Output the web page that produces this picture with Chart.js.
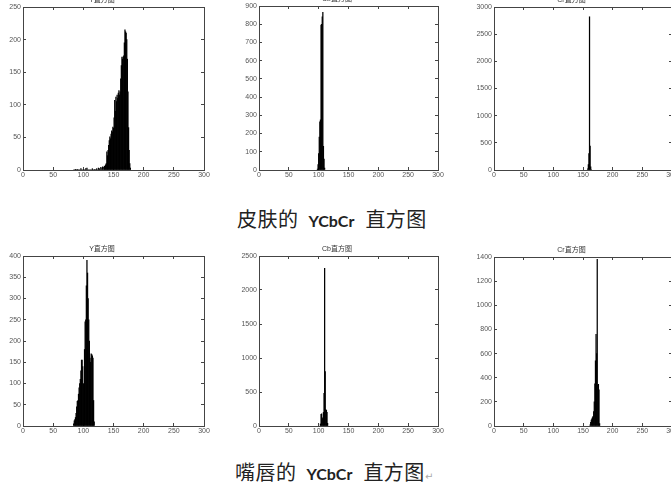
<!DOCTYPE html>
<html><head><meta charset="utf-8">
<script src="https://cdn.jsdelivr.net/npm/chart.js@4.4.1/dist/chart.umd.min.js"></script>
<style>
html,body{margin:0;padding:0;width:671px;height:490px;overflow:hidden;background:#fff;position:relative}
canvas{position:absolute}
.cap{position:absolute;white-space:nowrap;color:#222;font-family:"Noto Sans CJK SC";font-size:20px;line-height:20px;letter-spacing:0.5px}
.cap b{font-family:Lato;font-weight:bold;font-size:16px;margin:0 11px 0 10px;letter-spacing:0}
.ret{color:#aaa;font-size:10px;font-family:"DejaVu Sans"}
</style></head><body>
<div class="cap" style="left:237px;top:209px">皮肤的<b>YCbCr</b>直方图</div>
<div class="cap" style="left:235px;top:462px">嘴唇的<b>YCbCr</b>直方图<span class="ret">↵</span></div>
<script>
// x tick values shared by all panels
const xTicks = [0, 50, 100, 150, 200, 250, 300];

// 皮肤 (skin) Y histogram
const skinYBins = [84,85,86,87,88,89,90,91,92,93,94,95,96,97,98,99,100,101,102,103,104,105,106,107,108,109,110,111,112,113,114,115,116,117,118,119,120,121,122,123,124,125,126,127,128,129,130,131,132,133,134,135,136,137,138,139,140,141,142,143,144,145,146,147,148,149,150,151,152,153,154,155,156,157,158,159,160,161,162,163,164,165,166,167,168,169,170,171,172,173,174,175,176,177,178];
const skinYCounts = [0,0,0,1,0,0,1,0,0,0,0,0,2,0,0,0,0,0,0,0,2,0,3,0,0,0,0,0,0,0,0,2,0,0,0,1,0,0,2,0,0,3,0,2,0,4,0,3,5,0,4,6,5,8,10,28,22,30,38,45,51,48,55,60,58,66,64,80,107,90,112,105,115,110,118,122,115,120,140,160,173,170,173,175,195,215,212,210,200,170,120,65,30,10,3];

// skin Cb histogram
const skinCbBins = [98,99,100,101,102,103,104,105,106,107,108,109,110];
const skinCbCounts = [5,30,90,180,265,275,795,800,840,865,130,60,10];

// skin Cr histogram
const skinCrBins = [158,159,160,161,162,163,164];
const skinCrCounts = [20,100,300,2820,440,60,10];

// 嘴唇 (lip) Y histogram
const lipYBins = [84,85,86,87,88,89,90,91,92,93,94,95,96,97,98,99,100,101,102,103,104,105,106,107,108,109,110,111,112,113,114,115,116,117,118];
const lipYCounts = [5,12,15,20,30,45,58,60,75,90,100,110,130,155,155,140,100,98,180,245,250,330,390,360,300,250,200,160,150,170,168,165,160,60,10];

// lip Cb histogram
const lipCbBins = [103,104,105,106,107,108,109,110,111,112,113,114,115];
const lipCbCounts = [30,170,180,120,100,200,480,2320,800,240,230,200,40];

// lip Cr histogram
const lipCrBins = [162,163,164,165,166,167,168,169,170,171,172,173,174,175,176,177,178];
const lipCrCounts = [10,30,50,60,70,80,120,200,350,540,760,600,1380,340,345,300,20];

Chart.defaults.font.family = '"Liberation Sans","Noto Sans CJK SC",sans-serif';

function makeChart(left, top, plotW, plotH, title, bins, counts, yMax, yStep) {
  const padL = 23, padT = 14, padB = 18, padR = 23;
  const cv = document.createElement('canvas');
  cv.width = plotW + padL + padR;
  cv.height = plotH + padT + padB;
  cv.style.left = (left - padL) + 'px';
  cv.style.top = (top - padT) + 'px';
  document.body.appendChild(cv);
  const axisCol = '#444';
  const tickFont = {size: 7};
  const gridOpt = {drawOnChartArea: false, drawTicks: true, tickLength: -3, color: axisCol, offset: false};
  new Chart(cv, {
    type: 'bar',
    data: {
      datasets: [{
        data: bins.map((b, i) => ({x: b, y: counts[i]})),
        backgroundColor: '#000',
        borderWidth: 0,
        barPercentage: 1,
        categoryPercentage: 1
      }]
    },
    options: {
      responsive: false,
      animation: false,
      layout: {padding: {left: 0, right: padR, top: 0, bottom: 0}},
      plugins: {
        legend: {display: false},
        tooltip: {enabled: false},
        title: {display: true, text: title, color: '#333', font: {size: 7, weight: 'normal'}, padding: {top: 3, bottom: 2.6}}
      },
      scales: {
        x: {type: 'linear', position: 'bottom', min: xTicks[0], max: xTicks[xTicks.length - 1], offset: false,
            afterBuildTicks: s => { s.ticks = xTicks.map(v => ({value: v})); },
            ticks: {color: '#555', font: tickFont, padding: 4, maxRotation: 0, autoSkip: false, format: {useGrouping: false}},
            grid: gridOpt, border: {color: axisCol},
            afterFit: s => { s.height = padB; }},
        x2: {type: 'linear', position: 'top', min: xTicks[0], max: xTicks[xTicks.length - 1], offset: false,
            afterBuildTicks: s => { s.ticks = xTicks.map(v => ({value: v})); },
            ticks: {display: false},
            grid: gridOpt, border: {color: axisCol},
            afterFit: s => { s.height = 0; }},
        y: {type: 'linear', position: 'left', min: 0, max: yMax,
            ticks: {stepSize: yStep, color: '#555', font: tickFont, padding: 5, format: {useGrouping: false}},
            grid: gridOpt, border: {color: axisCol},
            afterFit: s => { s.width = padL; }},
        y2: {type: 'linear', position: 'right', min: 0, max: yMax,
            ticks: {stepSize: yStep, display: false},
            grid: gridOpt, border: {color: axisCol},
            afterFit: s => { s.width = 0; }}
      }
    }
  });
}

makeChart(23, 7, 181, 163, 'Y直方图', skinYBins, skinYCounts, 250, 50);
makeChart(259, 6, 179, 164, 'Cb直方图', skinCbBins, skinCbCounts, 900, 100);
makeChart(494, 7, 178, 163, 'Cr直方图', skinCrBins, skinCrCounts, 3000, 500);
makeChart(23, 256, 181, 170, 'Y直方图', lipYBins, lipYCounts, 400, 50);
makeChart(259, 256, 179, 170, 'Cb直方图', lipCbBins, lipCbCounts, 2500, 500);
makeChart(494, 257, 178, 169, 'Cr直方图', lipCrBins, lipCrCounts, 1400, 200);
</script>
</body></html>
